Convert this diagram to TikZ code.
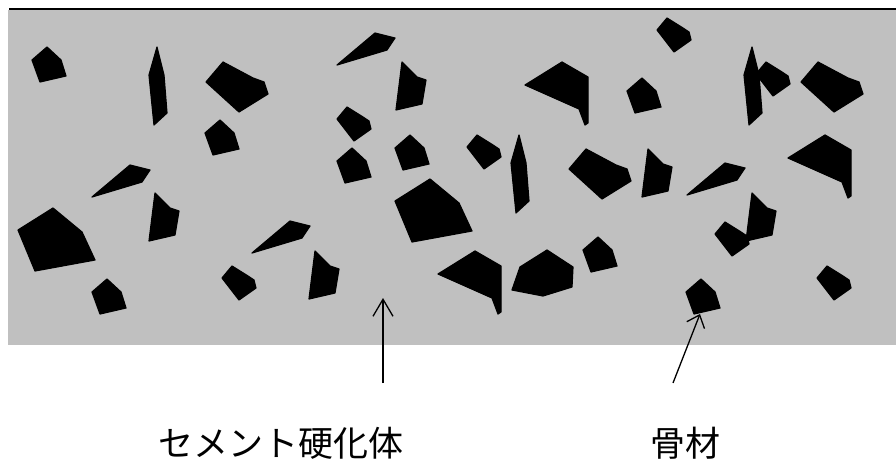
\documentclass[tikz,border=0pt]{standalone}
\usepackage{fontspec}
\usetikzlibrary{arrows.meta}
\newfontfamily\jpfont{Noto Sans CJK JP}
\definecolor{mortar}{RGB}{192,192,192}

\begin{document}
\begin{tikzpicture}[x=1pt,y=-1pt,
  stone/.style={fill=black,draw=black,line width=1.2,line join=round},
  pointer/.style={line width=1.3,-{Straight Barb[length=17pt,width=20pt]}},
  label/.style={font=\jpfont\fontsize{35}{40}\selectfont,inner sep=0pt}]
\useasboundingbox (0,0) rectangle (896,462);
% Matrix
\path[fill=mortar] (8,10) rectangle (896,345);
\path[draw,line width=2] (9,9) -- (896,9);
% Small pentagons
\foreach \x/\y in {47/47,220/120,352/148,410/135,642/78,107/279,701/279,598/237}{
\path[stone] (\x,\y) --++(14,13) --++(5,16) --++(-26,6) --++(-8,-22) -- cycle;
}
% Large pentagons
\foreach \x/\y in {53/208,430/179}{
\path[stone] (\x,\y) --++(29,24) --++(13,28) --++(-60,11) --++(-17,-41) -- cycle;
}
% Small quads
\foreach \x/\y in {347/107,477/135,667/18,766/62,232/266,827/266,725/222}{
\path[stone] (\x,\y) --++(16,10) --++(6,4) --++(2,8) --++(-17,12) --++(-17,-22) -- cycle;
}
% Large quads
\foreach \x/\y in {223/62,586/149,818/62}{
\path[stone] (\x,\y) --++(30,16) --++(11,4) --++(4,12) --++(-29,18) --++(-33,-30) -- cycle;
}
% Kites with a tail
\foreach \x/\y in {562/62,475/251,825/135}{
\path[stone] (\x,\y) --++(26,15) --++(0,46) --++(-3,2) --++(-6,-16) --++(-54,-24) -- cycle;
}
% Tall pieces
\foreach \x/\y in {402/62,155/193,315/251,648/149,752/193}{
\path[stone] (\x,\y) --++(15,15) --++(9,3) --++(-4,24) --++(-26,6) -- cycle;
}
% Needles
\foreach \x/\y in {157/47,519/135,752/47}{
\path[stone] (\x,\y) --++(7,28) --++(3,38) --++(-13,12) --++(-5,-50) -- cycle;
}
% Slivers
\foreach \x/\y in {337/65,92/197,252/253,687/195}{
\path[stone] (\x,\y) --++(38,-32) --++(20,5) --++(-8,12) -- cycle;
}
% Hexagon
\path[stone] (512,290) -- (520,267) -- (547,250) -- (573,267) -- (572,287) -- (543,296) -- cycle;
% Labels
\node[label] (paste) at (281,443) {セメント硬化体};
\node[label] (aggregate) at (685,443) {骨材};
\coordinate (paste foot) at (383,383);
\coordinate (paste tip) at (383,298);
\coordinate (aggregate foot) at (673,383);
\coordinate (aggregate tip) at (700,314);
\draw[pointer] (paste foot) -- (paste tip);
\draw[pointer,-{Straight Barb[length=11pt,width=19pt]}] (aggregate foot) -- (aggregate tip);
\end{tikzpicture}
\end{document}
